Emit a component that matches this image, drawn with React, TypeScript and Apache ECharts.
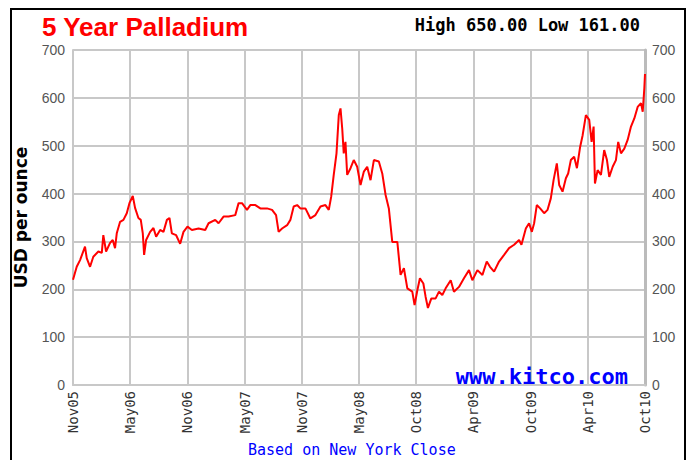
import React, { useEffect, useRef } from "react";
import * as echarts from "echarts";

const xTickLabels = ["Nov05", "May06", "Nov06", "May07", "Nov07", "May08", "Oct08", "Apr09", "Oct09", "Apr10", "Oct10"];

// months elapsed since Nov 2005
const monthsSinceNov05 = [
  0, 0.39, 0.74, 1.26, 1.44, 1.79, 2.13, 2.66, 3.02, 3.18,
  3.47, 3.89, 4.17, 4.41, 4.59, 4.94, 5.29, 5.64, 5.92, 6.27,
  6.51, 6.86, 7.11, 7.32, 7.46, 7.67, 8.09, 8.44, 8.72, 9.14,
  9.49, 9.85, 10.12, 10.37, 10.82, 11.24, 11.59, 12.01, 12.47, 13.17,
  13.87, 14.22, 14.92, 15.27, 15.79, 16.32, 17.02, 17.37, 17.73, 18.25,
  18.6, 19.13, 19.65, 20.35, 20.88, 21.3, 21.57, 21.93, 22.46, 22.8,
  23.15, 23.51, 23.85, 24.38, 24.9, 25.43, 25.96, 26.48, 26.83, 27.08,
  27.35, 27.64, 27.88, 28.06, 28.24, 28.4, 28.58, 28.76, 29.11, 29.45,
  29.81, 30.16, 30.51, 30.86, 31.21, 31.56, 32.08, 32.44, 32.79, 33.13,
  33.49, 34.02, 34.36, 34.71, 35.07, 35.59, 35.83, 36.12, 36.39, 36.75,
  36.99, 37.23, 37.59, 38.04, 38.39, 38.74, 39.09, 39.62, 39.96, 40.49,
  41.01, 41.54, 41.89, 42.42, 42.95, 43.4, 43.74, 44.17, 44.69, 45.22,
  45.74, 46.27, 46.79, 47.04, 47.5, 47.84, 48.13, 48.37, 48.65, 49.0,
  49.42, 49.78, 50.12, 50.41, 50.75, 51.0, 51.35, 51.7, 51.94, 52.22,
  52.57, 52.86, 53.2, 53.46, 53.8, 54.15, 54.4, 54.61, 54.75, 55.03,
  55.38, 55.72, 56.01, 56.25, 56.61, 56.95, 57.19, 57.48, 57.83, 58.18,
  58.53, 58.88, 59.23, 59.58, 59.76, 59.93, 60
];

// USD per ounce
const pricesUSD = [
  220, 247, 261, 289, 265, 247, 268, 279, 276, 313,
  279, 297, 303, 286, 317, 341, 345, 359, 380, 395,
  370, 349, 345, 317, 272, 303, 320, 328, 310, 324,
  320, 345, 349, 317, 313, 295, 320, 331, 324, 327,
  324, 338, 345, 338, 352, 352, 355, 380, 380, 366,
  376, 376, 369, 369, 366, 355, 320, 327, 334, 345,
  373, 376, 369, 369, 348, 355, 373, 376, 366, 393,
  439, 484, 564, 578, 536, 484, 508, 439, 453, 470,
  456, 418, 446, 456, 428, 470, 467, 442, 397, 369,
  299, 299, 230, 244, 202, 195, 167, 198, 223, 212,
  184, 161, 181, 181, 195, 188, 202, 219, 195, 205,
  223, 240, 219, 240, 230, 258, 247, 237, 258, 272,
  286, 293, 303, 293, 327, 338, 320, 338, 376, 369,
  359, 366, 390, 428, 463, 418, 404, 432, 442, 470,
  477, 453, 498, 522, 564, 554, 508, 540, 421, 449,
  439, 491, 470, 435, 456, 470, 508, 484, 494, 512,
  540, 557, 581, 589, 571, 620, 650
];

const titleText = "5 Year Palladium";
const highLowText = "High 650.00 Low 161.00";
const axisNameText = "USD per ounce";
const watermarkText = "www.kitco.com";
const footerText = "Based on New York Close";

export default function App() {
  const ref = useRef<HTMLDivElement>(null);

  useEffect(() => {
    document.body.style.margin = "0";
    const chart = echarts.init(ref.current!, null, { renderer: "svg" });
    const data = monthsSinceNov05.map((m, i) => [m, pricesUSD[i]]);
    const gridColor = "#c8c8c8";
    const yLabel = {
      fontFamily: "Liberation Sans, Arial, sans-serif",
      fontSize: 14,
      color: "#555",
    };
    chart.setOption({
      animation: false,
      backgroundColor: "#ffffff",
      grid: { left: 73, right: 45, top: 50, bottom: 75 },
      xAxis: {
        type: "value",
        min: 0,
        max: 60,
        interval: 6,
        axisLine: { show: true, onZero: false, lineStyle: { color: gridColor, width: 2 } },
        axisTick: { show: false },
        splitLine: { show: true, lineStyle: { color: gridColor, width: 2 } },
        axisLabel: {
          rotate: 90,
          margin: 6,
          fontFamily: "DejaVu Sans Mono, monospace",
          fontSize: 14,
          color: "#333",
          formatter: (v: number) => xTickLabels[Math.round(v / 6)] ?? "",
        },
      },
      yAxis: [
        {
          type: "value",
          min: 0,
          max: 700,
          interval: 100,
          position: "left",
          axisLine: { show: true, lineStyle: { color: gridColor, width: 2 } },
          axisTick: { show: false },
          splitLine: { show: true, lineStyle: { color: gridColor, width: 2 } },
          axisLabel: { ...yLabel, margin: 8 },
          name: axisNameText,
          nameLocation: "middle",
          nameRotate: 90,
          nameGap: 44,
          nameTextStyle: {
            fontFamily: "DejaVu Sans, sans-serif",
            fontWeight: "bold",
            fontSize: 17,
            color: "#000",
          },
        },
        {
          type: "value",
          min: 0,
          max: 700,
          interval: 100,
          position: "right",
          axisLine: { show: true, lineStyle: { color: "#bbbbbb", width: 3 } },
          axisTick: { show: false },
          splitLine: { show: false },
          axisLabel: { ...yLabel, margin: 7 },
        },
      ],
      series: [
        {
          type: "line",
          data,
          yAxisIndex: 0,
          showSymbol: false,
          symbol: "none",
          lineStyle: { color: "#ff0000", width: 2 },
          z: 5,
        },
      ],
      graphic: [
        {
          type: "rect",
          shape: { x: 11, y: 9, width: 674, height: 470 },
          style: { fill: "none", stroke: "#000", lineWidth: 2 },
          silent: true,
        },
        {
          type: "text",
          left: 42,
          top: 14,
          style: {
            text: titleText,
            fill: "#ff0000",
            font: "bold 26px 'Liberation Sans Narrow', 'Arial Narrow', 'Liberation Sans', sans-serif",
          },
        },
        {
          type: "text",
          right: 50,
          top: 16,
          style: {
            text: highLowText,
            fill: "#000",
            font: "bold 17px 'DejaVu Sans Mono', monospace",
          },
        },
        {
          type: "text",
          right: 62,
          top: 365,
          z: 10,
          style: {
            text: watermarkText,
            fill: "#0000ff",
            font: "bold 22px 'DejaVu Sans Mono', monospace",
          },
        },
        {
          type: "text",
          left: 248,
          top: 442,
          style: {
            text: footerText,
            fill: "#0000ff",
            font: "15px 'DejaVu Sans Mono', monospace",
          },
        },
      ],
    });
    return () => chart.dispose();
  }, []);

  return <div ref={ref} style={{ width: 690, height: 460 }} />;
}
